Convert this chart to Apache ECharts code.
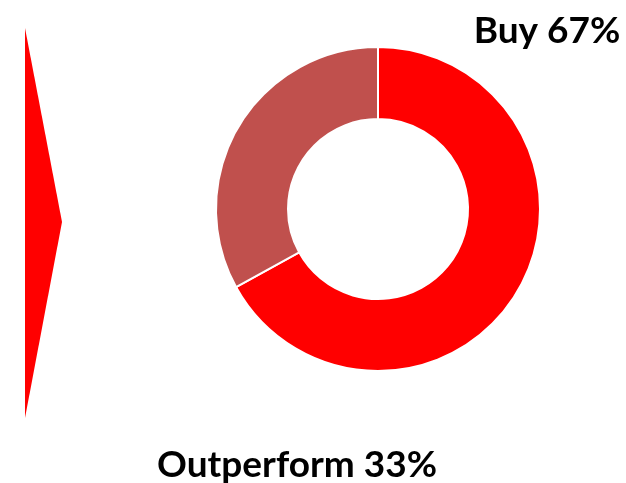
<!DOCTYPE html>
<html><head><meta charset="utf-8">
<script src="https://cdn.jsdelivr.net/npm/echarts@6/dist/echarts.min.js"></script>
<style>html,body{margin:0;padding:0;background:#fff}#c{width:626px;height:483px}</style>
</head><body><div id="c"></div>
<script>
const categories = ['Buy', 'Outperform'];
const values = [67, 33];
const colors = ['#FF0000', '#C0504D'];
const labelPos = [[547, 31], [297, 465]];

const chart = echarts.init(document.getElementById('c'));
chart.setOption({
  animation: false,
  graphic: [{
    type: 'polygon',
    shape: { points: [[25, 28], [62, 222], [25, 418]] },
    style: { fill: '#FF0000' }
  }],
  series: [{
    type: 'pie',
    center: [378, 209],
    radius: [90, 162],
    startAngle: 90,
    clockwise: true,
    itemStyle: { borderColor: '#fff', borderWidth: 2 },
    label: {
      show: true,
      formatter: p => p.name + ' ' + p.value + '%',
      fontFamily: 'Lato',
      fontWeight: 'bold',
      fontSize: 37,
      color: '#000',
      width: 600,
      overflow: 'none',
      align: 'center'
    },
    labelLine: { show: false },
    labelLayout: p => ({ x: labelPos[p.dataIndex][0], y: labelPos[p.dataIndex][1], align: 'center', verticalAlign: 'middle' }),
    data: categories.map((c, i) => ({ name: c, value: values[i], itemStyle: { color: colors[i] } }))
  }]
});
</script></body></html>
